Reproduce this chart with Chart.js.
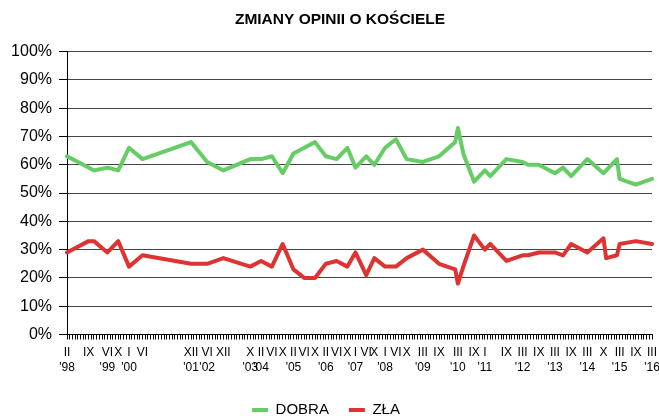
<!DOCTYPE html>
<html>
<head>
<meta charset="utf-8">
<title>Zmiany opinii o Kościele</title>
<script src="https://cdn.jsdelivr.net/npm/chart.js@4.4.1/dist/chart.umd.min.js"></script>
<style>
  body { margin: 0; background: #fff; }
  canvas { display: block; }
</style>
</head>
<body>
<canvas id="chart" width="659" height="419"></canvas>
<script>
// Oś X: jedna kreska na miesiąc, od II 1998 (0) do III 2016 (217)
const monthCount = 218;

// Miesiące pomiarów (numer kreski na osi X)
const surveyMonth = [0, 8, 10, 15, 19, 23, 28, 46, 52, 58, 68, 72, 76, 80, 84, 88, 92, 96, 100, 104,
  107, 111, 114, 118, 122, 126, 132, 138, 144, 145, 147, 151, 155, 157, 163, 169, 171, 175, 181, 184,
  187, 193, 199, 200, 204, 205, 211, 217];

// Oceny (%)
const dobra = [63, 59, 58, 59, 58, 66, 62, 68, 61, 58, 62, 62, 63, 57, 64, 66, 68, 63, 62, 66,
  59, 63, 60, 66, 69, 62, 61, 63, 68, 73, 64, 54, 58, 56, 62, 61, 60, 60, 57, 59,
  56, 62, 57, 58, 62, 55, 53, 55];
const zla = [29, 33, 33, 29, 33, 24, 28, 25, 25, 27, 24, 26, 24, 32, 23, 20, 20, 25, 26, 24,
  29, 21, 27, 24, 24, 27, 30, 25, 23, 18, 24, 35, 30, 32, 26, 28, 28, 29, 29, 28,
  32, 29, 34, 27, 28, 32, 33, 32];

// Opisy osi X
const tickMonth = [0, 8, 15, 19, 23, 28, 46, 52, 58, 68, 72, 76, 80, 84, 88, 92, 96, 100, 104,
  107, 111, 114, 118, 122, 126, 132, 138, 145, 151, 155, 163, 169, 175, 181, 187, 193, 199, 205, 211, 217];
const tickRoman = ['II', 'IX', 'VI', 'X', 'I', 'VI', 'XII', 'VI', 'XII', 'X', 'II', 'VI', 'X', 'II', 'VI', 'X', 'II', 'VI', 'X',
  'I', 'VI', 'X', 'I', 'VI', 'X', 'III', 'IX', 'III', 'IX', 'I', 'IX', 'III', 'IX', 'III', 'IX', 'III', 'X', 'III', 'IX', 'III'];
const tickYear = ["'98", '', "'99", '', "'00", '', "'01", "'02", '', "'03", "'04", '', '', "'05", '', '', "'06", '', '',
  "'07", '', '', "'08", '', '', "'09", '', "'10", '', "'11", '', "'12", '', "'13", '', "'14", '', "'15", '', "'16"];

Chart.defaults.font.family = "'Liberation Sans', Arial, sans-serif";
Chart.defaults.color = '#000';

const labels = new Array(monthCount).fill('');
tickMonth.forEach((m, i) => {
    labels[m] = tickYear[i] ? [tickRoman[i], tickYear[i]] : tickRoman[i];
});

function spread(values) {
    const out = new Array(monthCount).fill(null);
    surveyMonth.forEach((m, i) => { out[m] = values[i]; });
    return out;
}

const lineStyle = {
    borderWidth: 4,
    pointRadius: 0,
    spanGaps: true,
    tension: 0,
    borderJoinStyle: 'round',
    borderCapStyle: 'round'
};

// tytuł w oryginale jest lekko przesunięty w prawo
const titleShift = {
    id: 'titleShift',
    afterLayout(chart) {
        if (chart.titleBlock) chart.titleBlock.left += 28;
    }
};

new Chart(document.getElementById('chart'), {
    type: 'line',
    data: {
        labels: labels,
        datasets: [
            Object.assign({ label: 'DOBRA', data: spread(dobra), borderColor: '#66cc66', backgroundColor: '#66cc66' }, lineStyle),
            Object.assign({ label: 'ZŁA', data: spread(zla), borderColor: '#dd3333', backgroundColor: '#dd3333' }, lineStyle)
        ]
    },
    plugins: [titleShift],
    options: {
        responsive: false,
        animation: false,
        layout: { padding: { left: 0, right: 7, top: 0, bottom: -8.5 } },
        plugins: {
            title: {
                display: true,
                text: 'ZMIANY OPINII O KOŚCIELE',
                font: { size: 15.5, weight: 'bold' },
                padding: { top: 10, bottom: 23 }
            },
            legend: {
                position: 'bottom',
                labels: {
                    font: { size: 15 },
                    usePointStyle: true,
                    pointStyle: 'line',
                    pointStyleWidth: 16,
                    boxHeight: 4,
                    padding: 20
                }
            },
            tooltip: { enabled: false }
        },
        scales: {
            x: {
                grid: { drawOnChartArea: false, drawTicks: true, tickLength: 5, tickColor: '#000' },
                border: { display: true, color: '#000', width: 1 },
                ticks: { autoSkip: false, maxRotation: 0, minRotation: 0, font: { size: 12, lineHeight: 1.25 }, padding: 6 },
                afterFit: s => { s.height = 48; s.paddingRight = 0; s.paddingLeft = 0; }
            },
            y: {
                min: 0,
                max: 100,
                ticks: { stepSize: 10, callback: v => v + '%', font: { size: 16 }, padding: 7 },
                grid: { color: '#444', lineWidth: 1, tickLength: 8, tickColor: '#000', borderDash: [8, 5], tickBorderDash: [] },
                border: { display: true, color: '#000', width: 1 },
                afterFit: s => { s.width = 67; }
            }
        }
    }
});
</script>
</body>
</html>
